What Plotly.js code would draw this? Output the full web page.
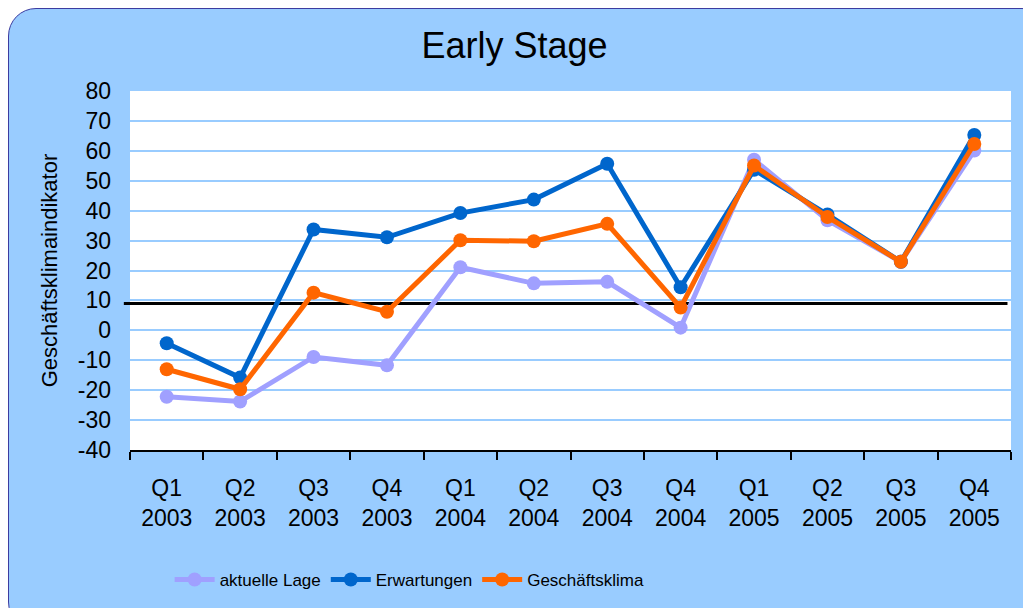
<!DOCTYPE html>
<html>
<head>
<meta charset="utf-8">
<script src="https://cdn.plot.ly/plotly-3.0.1.min.js"></script>
<style>
  html, body { margin: 0; padding: 0; background: #ffffff; overflow: hidden; }
  #bg { position: absolute; left: 8px; top: 8px; width: 1040px; height: 620px;
        background: #99CCFF; border: 1.5px solid #3c3ca0; border-radius: 28px; }
  #chart { position: absolute; left: 0; top: 0; width: 1023px; height: 608px; }
</style>
</head>
<body>
<div id="bg"></div>
<div id="chart"></div>
<script>
const categories = ["Q1<br>2003","Q2<br>2003","Q3<br>2003","Q4<br>2003",
                    "Q1<br>2004","Q2<br>2004","Q3<br>2004","Q4<br>2004",
                    "Q1<br>2005","Q2<br>2005","Q3<br>2005","Q4<br>2005"];
const aktuelleLage   = [-22.2, -23.8, -8.9, -11.7, 21.1, 15.7, 16.2, 0.9, 57.0, 36.8, 22.9, 60.1];
const erwartungen    = [-4.3, -15.8, 33.7, 31.1, 39.2, 43.7, 55.7, 14.4, 53.7, 38.7, 22.9, 65.3];
const geschaeftsklima= [-13.0, -19.7, 12.6, 6.2, 30.1, 29.8, 35.6, 7.6, 55.1, 37.9, 22.9, 62.3];
const referenceLevel = 9;
const yTicks = [-40,-30,-20,-10,0,10,20,30,40,50,60,70,80];

const font = "Arial, 'Liberation Sans', sans-serif";
function series(name, y, color) {
  return { type: "scatter", mode: "lines+markers", name: name, x: categories, y: y,
           line: { color: color, width: 5 }, marker: { color: color, size: 14 } };
}
const data = [
  series("aktuelle Lage", aktuelleLage, "#A0A0FF"),
  series("Erwartungen", erwartungen, "#0066CC"),
  series("Geschäftsklima", geschaeftsklima, "#FF6600")
];
const layout = {
  width: 1023, height: 608,
  paper_bgcolor: "rgba(0,0,0,0)", plot_bgcolor: "#ffffff",
  margin: { l: 130, r: 12, t: 91, b: 157 },
  font: { family: font, color: "#000000" },
  title: { text: "Early Stage", x: 0.503, xref: "container", xanchor: "center",
           y: 0.925, yref: "container", yanchor: "middle",
           font: { size: 36, family: font, color: "#000" } },
  showlegend: true,
  legend: { orientation: "h", x: 0.045, xanchor: "left", y: -0.358, yanchor: "middle",
            font: { size: 17, family: font }, bgcolor: "rgba(0,0,0,0)", itemwidth: 40,
            tracegroupgap: 0 },
  xaxis: { type: "category", showgrid: false, showline: true, linecolor: "#000", linewidth: 2,
           ticks: "outside", tickson: "boundaries", ticklen: 8, tickwidth: 2, tickcolor: "#000",
           tickfont: { size: 23, family: font }, ticklabelstandoff: 16, zeroline: false,
           range: [-0.5, 11.5] },
  yaxis: { range: [-40, 80], tickvals: yTicks, ticktext: yTicks.map(String),
           showgrid: true, gridcolor: "#99CCFF", gridwidth: 2, zeroline: false,
           showline: false, ticks: "", tickfont: { size: 23, family: font },
           ticklabelstandoff: 18,
           title: { text: "Geschäftsklimaindikator", font: { size: 22, family: font }, standoff: 14 } },
  shapes: [{ type: "line", xref: "paper", yref: "y", x0: -0.007, x1: 0.996,
             y0: referenceLevel, y1: referenceLevel, line: { color: "#000", width: 3 }, layer: "below" }]
};
Plotly.newPlot("chart", data, layout, { displayModeBar: false, staticPlot: true });
</script>
</body>
</html>
